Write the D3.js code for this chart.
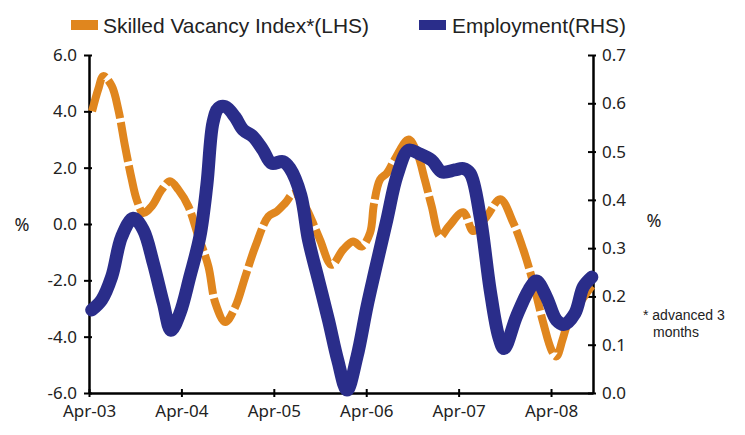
<!DOCTYPE html>
<html><head><meta charset="utf-8">
<script src="https://cdn.jsdelivr.net/npm/d3@7"></script>
<style>body{margin:0;background:#fff}svg{display:block}</style>
</head><body>
<svg id="c" width="745" height="435"></svg>
<script>
// month index from Apr-03 (0 = Apr-03)
const xTickMonths = [0, 12, 24, 36, 48, 60];
const xTickLabels = ["Apr-03", "Apr-04", "Apr-05", "Apr-06", "Apr-07", "Apr-08"];
const leftTicks = [-6, -4, -2, 0, 2, 4, 6];
const rightTicks = [0, 0.1, 0.2, 0.3, 0.4, 0.5, 0.6, 0.7];

const vacancyMonths = [0.4,1.2,1.86,2.95,3.8,4.68,5.55,6.2,7.05,8.14,9.44,10.52,11.6,12.9,14.2,15.5,16.4,17.7,19.0,20.3,21.6,23.3,24.4,25.5,26.6,28.05,28.9,30.0,31.5,33.0,34.3,35.4,36.5,37.0,37.8,38.7,39.7,41.5,42.6,43.6,44.5,45.6,46.7,48.6,49.9,51.65,53.4,55.1,56.4,57.7,59.0,60.1,60.7,61.5,62.2,63.5,64.5,65.3];
const vacancyValues = [4.0,4.78,5.25,4.9,4.07,2.76,1.58,0.86,0.39,0.63,1.22,1.52,1.22,0.63,-0.44,-1.5,-2.8,-3.48,-2.94,-1.86,-0.8,0.27,0.45,0.75,1.08,0.63,0.15,-0.56,-1.45,-0.91,-0.62,-0.8,-0.31,0.7,1.58,1.81,2.29,3.0,2.53,1.58,0.63,-0.44,-0.09,0.42,-0.25,0.27,0.88,0.04,-0.91,-2.1,-3.52,-4.5,-4.7,-4.1,-3.5,-2.9,-2.5,-2.2];

const employmentMonths = [0.35,1.65,2.95,4.25,5.75,7.05,8.35,9.65,10.65,11.8,13.1,14.4,15.3,16.1,16.8,17.7,18.95,20.0,21.3,22.6,23.7,25.2,26.1,27.5,28.5,29.8,31.1,32.3,33.5,34.8,36.1,37.1,38.7,40.0,41.5,42.8,44.5,45.8,47.5,48.6,49.5,50.8,52.1,53.2,53.9,55.5,57.1,58.1,59.4,60.7,61.7,63.1,64.2,65.3];
const employmentValues = [0.172,0.193,0.241,0.324,0.362,0.338,0.269,0.186,0.130,0.165,0.241,0.324,0.43,0.56,0.59,0.593,0.572,0.545,0.531,0.503,0.476,0.479,0.465,0.41,0.317,0.234,0.151,0.068,0.006,0.075,0.179,0.25,0.36,0.45,0.503,0.496,0.482,0.458,0.462,0.465,0.455,0.365,0.213,0.117,0.092,0.158,0.213,0.232,0.199,0.151,0.142,0.165,0.220,0.24];

const orange = "#E0861E", navy = "#2A2D8A";
const svg = d3.select("#c");
const x = d3.scaleLinear().domain([0, 65.45]).range([89, 593]);
const yL = d3.scaleLinear().domain([-6, 6]).range([393, 55]);
const yR = d3.scaleLinear().domain([0, 0.7]).range([393, 55]);
const numFont = "'Noto Sans', 'Open Sans', sans-serif";
const fmt = d => d3.format(".1f")(d).replace("\u2212", "-");

// axes
const gL = svg.append("g").attr("transform", `translate(${x(0)},0)`)
  .call(d3.axisLeft(yL).tickValues(leftTicks).tickFormat(fmt).tickSize(5).tickSizeOuter(0).tickPadding(7));
gL.selectAll(".tick line").attr("x1", 3).attr("stroke-width", 2);
const gR = svg.append("g").attr("transform", `translate(593,0)`)
  .call(d3.axisRight(yR).tickValues(rightTicks).tickFormat(fmt).tickSize(3).tickSizeOuter(0).tickPadding(6));
gR.selectAll(".tick line").attr("x1", -5).attr("stroke-width", 2);
const gB = svg.append("g").attr("transform", `translate(0,393)`)
  .call(d3.axisBottom(x).tickValues(xTickMonths).tickFormat((d, i) => xTickLabels[i]).tickSize(4).tickSizeOuter(0).tickPadding(8));
gB.selectAll(".tick line").attr("y1", -4).attr("stroke-width", 2);
[gL, gR, gB].forEach(g => {
  g.select(".domain").attr("stroke", "#000").attr("stroke-width", 2.5);
  g.selectAll(".tick line").attr("stroke", "#000");
  g.selectAll("text").attr("font-family", numFont).attr("font-size", 17).attr("fill", "#222");
});

// lines
const vac = vacancyMonths.map((m, i) => [m, vacancyValues[i]]);
const emp = employmentMonths.map((m, i) => [m, employmentValues[i]]);
svg.append("path").datum(vac)
  .attr("d", d3.line().x(d => x(d[0])).y(d => yL(d[1])).curve(d3.curveCatmullRom.alpha(0.5)))
  .attr("fill", "none").attr("stroke", orange).attr("stroke-width", 8)
  .attr("stroke-dasharray", "40,4");
svg.append("path").datum(emp)
  .attr("d", d3.line().x(d => x(d[0])).y(d => yR(d[1])).curve(d3.curveCatmullRom.alpha(0.5)))
  .attr("fill", "none").attr("stroke", navy).attr("stroke-width", 13)
  .attr("stroke-linecap", "round").attr("stroke-linejoin", "round");

// axis titles and note
svg.append("text").attr("x", 22).attr("y", 231).attr("text-anchor", "middle")
  .attr("font-family", numFont).attr("font-size", 18).attr("fill", "#222").text("%");
svg.append("text").attr("x", 654).attr("y", 227).attr("text-anchor", "middle")
  .attr("font-family", numFont).attr("font-size", 18).attr("fill", "#222").text("%");
const noteFont = "'Liberation Sans Narrow', 'Liberation Sans', sans-serif";
svg.append("text").attr("x", 643).attr("y", 320)
  .attr("font-family", noteFont).attr("font-size", 14).attr("fill", "#222")
  .text("* advanced 3");
svg.append("text").attr("x", 653).attr("y", 337)
  .attr("font-family", noteFont).attr("font-size", 14).attr("fill", "#222")
  .text("months");

// legend
const legFont = "'Liberation Sans Narrow', 'Liberation Sans', sans-serif";
svg.append("rect").attr("x", 71).attr("y", 20).attr("width", 27).attr("height", 10).attr("fill", orange);
svg.append("text").attr("x", 103).attr("y", 33).attr("font-family", legFont).attr("font-size", 21)
  .attr("fill", "#222").attr("textLength", 266).attr("lengthAdjust", "spacingAndGlyphs").text("Skilled Vacancy Index*(LHS)");
svg.append("rect").attr("x", 419).attr("y", 20).attr("width", 27).attr("height", 10).attr("fill", navy);
svg.append("text").attr("x", 452).attr("y", 33).attr("font-family", legFont).attr("font-size", 21)
  .attr("fill", "#222").attr("textLength", 174).attr("lengthAdjust", "spacingAndGlyphs").text("Employment(RHS)");
</script>
</body></html>
